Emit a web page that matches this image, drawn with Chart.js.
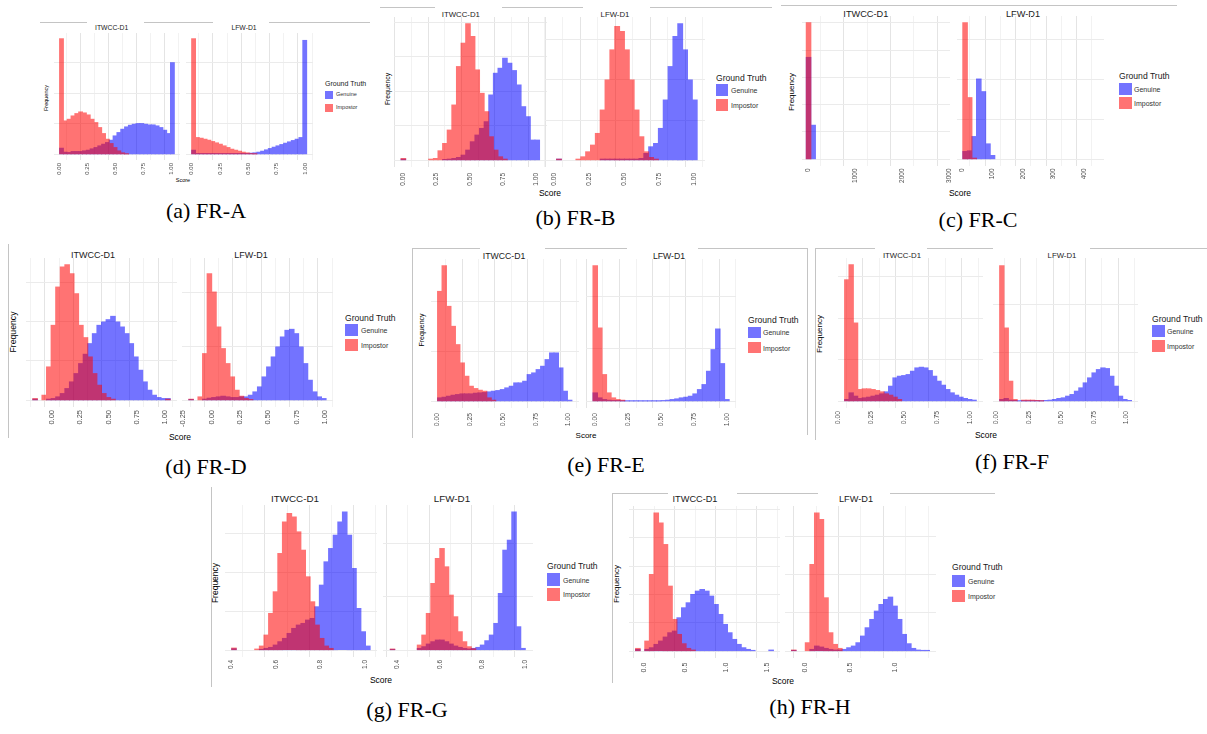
<!DOCTYPE html>
<html><head><meta charset="utf-8">
<script src="https://cdn.jsdelivr.net/npm/chart.js@4.4.0/dist/chart.umd.min.js"></script>
<style>
html,body{margin:0;padding:0;background:#fff;}
body{width:1207px;height:734px;position:relative;overflow:hidden;font-family:"Liberation Sans",Arial,sans-serif;}
canvas{position:absolute;}
.t{position:absolute;white-space:nowrap;color:#1a1a1a;line-height:1;}
.c{transform:translate(-50%,-50%);}
.l{transform:translate(0,-50%);}
.r{transform:translate(-50%,-50%) rotate(-90deg);}
.cap{font-family:"Liberation Serif","Times New Roman",serif;font-size:22px;color:#000;}
.ln{position:absolute;background:#c4c4c4;}
.key{position:absolute;}
</style></head><body>
<script>
// ---------------- DATA ----------------
const facets = ['ITWCC-D1', 'LFW-D1'];
const groundTruth = ['Genuine', 'Impostor'];
const captions = ['(a) FR-A','(b) FR-B','(c) FR-C','(d) FR-D','(e) FR-E','(f) FR-F','(g) FR-G','(h) FR-H'];

// tick values and labels
const tickUnit = [0, 0.25, 0.5, 0.75, 1];
const tickUnitLabels = ['0.00','0.25','0.50','0.75','1.00'];
const tickD2 = [-0.25, 0, 0.25, 0.5, 0.75, 1];
const tickD2Labels = ['-0.25','0.00','0.25','0.50','0.75','1.00'];
const tickC1 = [0, 1000, 2000, 3000];
const tickC1Labels = ['0','1000','2000','3000'];
const tickC2 = [0, 100, 200, 300, 400];
const tickC2Labels = ['0','100','200','300','400'];
const tickG = [0.4, 0.6, 0.8, 1.0];
const tickGLabels = ['0.4','0.6','0.8','1.0'];
const tickH1 = [0, 0.5, 1, 1.5];
const tickH1Labels = ['0.0','0.5','1.0','1.5'];
const tickH2 = [0, 0.5, 1];
const tickH2Labels = ['0.0','0.5','1.0'];

// histogram bins: [left edge of first bin, bin width] (30 bins each)
const binsA1 = [0, 0.0343];
const binsA2 = [0, 0.0338];
const binsB1 = [-0.017, 0.0347];
const binsB2 = [-0.017, 0.0347];
const binsC1 = [-49, 98];
const binsC2 = [2, 15];
const binsD1 = [-0.17, 0.0405];
const binsD2 = [-0.2, 0.0403];
const binsE1 = [0, 0.0342];
const binsE2 = [-0.0125, 0.0342];
const binsF1 = [0.05, 0.0333];
const binsF2 = [0.026, 0.0338];
const binsG1 = [0.4, 0.0208];
const binsG2 = [0.369, 0.021];
const binsH1 = [-0.1, 0.056];
const binsH2 = [-0.148, 0.0512];

// frequencies (estimated, relative units)
const genA1 = [18,6,5,8,8,8,10,12,16,20,25,30,35,42,55,65,75,82,87,90,92,92,90,88,88,85,80,72,62,275];
const impA1 = [347,100,105,115,122,127,124,118,105,95,80,62,45,32,20,10,4,1,0,0,0,0,0,0,0,0,0,0,0,0];
const genA2 = [12,2,2,2,2,2,2,2,2,2,2,2,2,2,2,3,4,6,9,13,17,21,25,29,33,37,41,45,50,342];
const impA2 = [347,50,48,45,42,38,34,30,25,20,15,12,9,6,4,2,1,0,0,0,0,0,0,0,0,0,0,0,0,0];

const genB1 = [3,0,0,0,0,0,0,0,0,2,3,5,8,15,30,55,75,95,115,195,260,275,305,290,268,225,160,130,60,60];
const impB1 = [5,0,0,0,0,0,3,5,28,50,90,165,280,350,408,370,270,200,145,70,30,10,3,0,0,0,0,0,0,0];
const genB2 = [0,3,0,0,0,0,0,0,0,0,3,3,3,3,3,3,3,3,5,20,40,50,95,180,280,370,408,330,240,180];
const impB2 = [0,3,0,0,0,3,10,25,45,80,150,240,330,400,385,330,240,150,70,25,8,3,0,0,0,0,0,0,0,0];

const genC1 = [306,102,0,0,0,0,0,0,0,0,0,0,0,0,0,0,0,0,0,0,0,0,0,0,0,0,0,0,0,0];
const impC1 = [410,0,0,0,0,0,0,0,0,0,0,0,0,0,0,0,0,0,0,0,0,0,0,0,0,0,0,0,0,0];
const genC2 = [23,25,68,241,203,46,11,0,0,0,0,0,0,0,0,0,0,0,0,0,0,0,0,0,0,0,0,0,0,0];
const impC2 = [410,185,3,0,0,0,0,0,0,0,0,0,0,0,0,0,0,0,0,0,0,0,0,0,0,0,0,0,0,0];

const genD1 = [3,0,0,3,5,10,20,35,55,80,110,138,170,200,225,235,242,252,235,220,200,170,130,90,55,30,15,8,5,5];
const impD1 = [5,0,15,100,225,340,400,407,380,320,225,188,130,80,45,20,8,3,0,0,0,0,0,0,0,0,0,0,0,3];
const genD2 = [2,0,0,3,6,8,10,12,10,8,8,10,10,15,25,40,70,100,130,160,190,210,213,200,160,110,60,25,10,5];
const impD2 = [3,0,10,140,380,325,220,155,110,70,30,12,5,2,0,0,0,0,0,0,0,0,0,0,0,0,0,0,0,0];

const genE1 = [10,12,15,18,20,22,22,22,24,25,26,28,30,32,35,40,45,55,55,60,80,85,95,105,125,145,145,100,30,3];
const impE1 = [330,407,285,225,170,115,75,45,38,33,30,10,3,0,0,0,0,0,0,0,0,0,0,0,0,0,0,0,0,0];
const genE2 = [25,10,5,3,2,2,1,1,1,1,1,1,1,1,1,2,3,5,7,10,12,15,22,35,50,90,155,217,113,5];
const impE2 = [407,220,80,25,10,5,3,0,0,0,0,0,0,0,0,0,0,0,0,0,0,0,0,0,0,0,0,0,0,0];

const genF1 = [5,25,15,8,10,12,15,18,22,28,45,70,75,77,80,90,100,102,100,92,75,60,48,35,25,18,12,8,5,3];
const impF1 = [365,410,235,35,37,37,35,32,28,22,18,12,5,0,0,0,0,0,0,0,0,0,0,0,0,0,0,0,0,0];
const genF2 = [5,8,3,2,1,1,1,1,1,1,2,3,5,8,10,15,20,30,40,55,70,85,95,100,98,75,45,15,5,2];
const impF2 = [407,220,60,5,0,3,3,3,2,1,0,0,0,0,0,0,0,0,0,0,0,0,0,0,0,0,0,0,0,0];

const genG1 = [4,0,0,0,0,0,2,5,8,15,25,35,50,65,75,80,90,95,130,195,265,305,345,385,415,345,245,125,55,12];
const impG1 = [6,0,0,0,0,3,12,45,110,175,290,385,410,400,355,300,220,145,75,35,12,5,0,0,0,0,0,0,0,0];
const genG2 = [2,0,0,0,0,0,5,10,18,25,30,30,25,18,12,8,5,3,5,8,15,28,45,80,170,300,330,415,70,5];
const impG2 = [3,0,0,0,0,0,15,45,110,200,275,305,250,165,100,55,25,10,4,0,0,0,0,0,0,0,0,0,0,0];

const genH1 = [5,0,5,10,20,30,42,55,60,100,130,145,170,180,185,180,165,140,110,80,55,35,20,10,5,2,0,0,0,3];
const impH1 = [8,0,30,230,415,385,320,195,95,50,22,8,3,0,0,0,0,0,0,0,0,0,0,0,0,0,0,0,0,0];
const genH2 = [2,0,0,0,5,15,12,8,5,3,3,5,10,15,25,45,70,95,120,140,155,162,135,95,50,22,8,3,2,2];
const impH2 = [3,0,0,25,260,415,395,160,55,20,8,0,0,0,0,0,0,0,0,0,0,0,0,0,0,0,0,0,0,0];

// ---------------- LAYOUT / STYLE ----------------
const ALPHA = 0.55;
const BLUE_SOLID = 'rgb(0,0,255)', RED_SOLID = 'rgb(255,0,0)';
const BLUE = 'rgba(0,0,255,0.55)', RED = 'rgba(255,0,0,0.55)';
Chart.defaults.font.family = '"Liberation Sans", Arial, sans-serif';

const FIGS = {
  a:{top:32.5, bottom:159.8, tick:6,   pad:3,   title:6.8, titleY:28,  titleX:[111.7,244], freq:[47,98,5.5],  score:[183,181,5.5], leg:{x:325, ty:83,  gy:95,   iy:107.5, kw:8,  kh:8,  tf:7,   lf:5.5, tx:336}, cap:[206,211]},
  b:{top:17.2, bottom:166.8, tick:6.5, pad:6,   title:7.8, titleY:15,  titleX:[460.8,615], freq:[388,89,6.8], score:[550,193,8.5], leg:{x:716, ty:77.5,gy:90,   iy:105,   kw:12, kh:12, tf:8.6, lf:7,   tx:731}, cap:[575.5,218]},
  c:{top:15.5, bottom:165.8, tick:6.5, pad:2.5, title:9.2, titleY:15,  titleX:[865.8,1023],freq:[792,92,8],   score:[960,193,8.5], leg:{x:1119,ty:76,  gy:89,   iy:102.5, kw:13, kh:12, tf:8.6, lf:7,   tx:1134},cap:[978,220]},
  d:{top:257.5,bottom:406.8, tick:7.5, pad:3,   title:9,   titleY:255, titleX:[93,251],    freq:[13,332,8.7], score:[180,437,8.5], leg:{x:345, ty:317.5,gy:330,  iy:344.5, kw:13, kh:12, tf:8.6, lf:7,   tx:361}, cap:[206,467]},
  e:{top:259.2,bottom:408.5, tick:6.8, pad:5,   title:8.7, titleY:256, titleX:[504,669],   freq:[421,330,7],  score:[586,436,8],   leg:{x:748, ty:320, gy:332,  iy:347.5, kw:13, kh:11, tf:8.6, lf:7,   tx:763}, cap:[606,465]},
  f:{top:258.2,bottom:408.5, tick:6.8, pad:3,   title:7.8, titleY:256, titleX:[902,1062],  freq:[820,334,8],  score:[986,435,8.5], leg:{x:1152,ty:319, gy:331,  iy:346,   kw:13, kh:12, tf:8.6, lf:7,   tx:1167},cap:[1012,462]},
  g:{top:504.75,bottom:656.9,tick:6.5, pad:3,   title:9.8, titleY:499, titleX:[295,452],   freq:[215,583,8.5],score:[381,680,8.5], leg:{x:547, ty:566, gy:579.5,iy:594,   kw:13, kh:13, tf:8.6, lf:7,   tx:563}, cap:[407,710]},
  h:{top:506.4,bottom:658.6, tick:7,   pad:4.7, title:9.2, titleY:500, titleX:[695,856],   freq:[617,584,8],  score:[783,681,8.5], leg:{x:952, ty:567, gy:581,  iy:596,   kw:13, kh:12, tf:8.6, lf:7,   tx:968}, cap:[810,707]}
};

const PANELS = [
  {fig:'a', gen:genA1, imp:impA1, bins:binsA1, ticks:tickUnit, labels:tickUnitLabels, xMin:-0.05, xMax:1.08, left:54.4, right:180.6, yStep:92},
  {fig:'a', gen:genA2, imp:impA2, bins:binsA2, ticks:tickUnit, labels:tickUnitLabels, xMin:-0.05, xMax:1.07, left:186.0, right:312.9, yStep:92},
  {fig:'b', gen:genB1, imp:impB1, bins:binsB1, ticks:tickUnit, labels:tickUnitLabels, xMin:-0.07, xMax:1.08, left:394.0, right:547.3, yStep:103},
  {fig:'b', gen:genB2, imp:impB2, bins:binsB2, ticks:tickUnit, labels:tickUnitLabels, xMin:-0.065, xMax:1.08, left:545.0, right:704.5, yStep:120},
  {fig:'c', gen:genC1, imp:impC1, bins:binsC1, ticks:tickC1, labels:tickC1Labels, xMin:-140, xMax:3020, left:801.8, right:949.3, yStep:82},
  {fig:'c', gen:genC2, imp:impC2, bins:binsC2, ticks:tickC2, labels:tickC2Labels, xMin:-17, xMax:465, left:956.5, right:1103.0, yStep:120},
  {fig:'d', gen:genD1, imp:impD1, bins:binsD1, ticks:tickUnit, labels:tickUnitLabels, xMin:-0.23, xMax:1.105, left:25.6, right:176.9, yStep:118},
  {fig:'d', gen:genD2, imp:impD2, bins:binsD2, ticks:tickD2, labels:tickD2Labels, xMin:-0.26, xMax:1.07, left:182.2, right:332.9, yStep:162},
  {fig:'e', gen:genE1, imp:impE1, bins:binsE1, ticks:tickUnit, labels:tickUnitLabels, xMin:-0.05, xMax:1.08, left:430.8, right:578.8, yStep:150},
  {fig:'e', gen:genE2, imp:impE2, bins:binsE2, ticks:tickUnit, labels:tickUnitLabels, xMin:-0.065, xMax:1.065, left:586.4, right:736.3, yStep:158},
  {fig:'f', gen:genF1, imp:impF1, bins:binsF1, ticks:tickUnit, labels:tickUnitLabels, xMin:0, xMax:1.1, left:838.3, right:983.2, yStep:125},
  {fig:'f', gen:genF2, imp:impF2, bins:binsF2, ticks:tickUnit, labels:tickUnitLabels, xMin:-0.025, xMax:1.09, left:993.4, right:1138.4, yStep:145},
  {fig:'g', gen:genG1, imp:impG1, bins:binsG1, ticks:tickG, labels:tickGLabels, xMin:0.37, xMax:1.055, left:225.0, right:377.2, yStep:117},
  {fig:'g', gen:genG2, imp:impG2, bins:binsG2, ticks:tickG, labels:tickGLabels, xMin:0.335, xMax:1.035, left:382.8, right:532.5, yStep:160},
  {fig:'h', gen:genH1, imp:impH1, bins:binsH1, ticks:tickH1, labels:tickH1Labels, xMin:-0.18, xMax:1.66, left:628.5, right:779.8, yStep:85},
  {fig:'h', gen:genH2, imp:impH2, bins:binsH2, ticks:tickH2, labels:tickH2Labels, xMin:-0.22, xMax:1.46, left:785.2, right:936.4, yStep:115}
];

const LINES = [
  [40,22,87,22],[144,22,213,22],[269,22,370,22],
  [380,7,435,7],[502,7,583,7],[650,7,772,7],
  [781,5,1177,5],
  [8,244,8,438],
  [412,248,412,438],[412,248,480,248],[545,248,627,248],[698,248,807,248],[807,248,807,435],
  [815,248,815,440],[815,248,875,248],[927,248,993,248],[1090,248,1207,248],
  [211,487,211,687],
  [612,493,612,683],[612,493,668,493],[737,493,818,493],[890,493,995,493]
];

// ---------------- HELPERS ----------------
function addText(str, x, y, size, cls, extra) {
  const d = document.createElement('div');
  d.className = 't ' + cls;
  d.textContent = str;
  d.style.left = x + 'px'; d.style.top = y + 'px';
  d.style.fontSize = size + 'px';
  if (extra) Object.assign(d.style, extra);
  document.body.appendChild(d);
  return d;
}
function addKey(x, y, w, h, color) {
  const d = document.createElement('div');
  d.className = 'key';
  Object.assign(d.style, {left:x+'px', top:y+'px', width:w+'px', height:h+'px', background:color});
  document.body.appendChild(d);
}

LINES.forEach(([x1,y1,x2,y2]) => {
  const d = document.createElement('div');
  d.className = 'ln';
  if (y1 === y2) Object.assign(d.style, {left:x1+'px', top:y1+'px', width:(x2-x1)+'px', height:'1px'});
  else Object.assign(d.style, {left:x1+'px', top:y1+'px', width:'1px', height:(y2-y1)+'px'});
  document.body.appendChild(d);
});

const figKeys = Object.keys(FIGS);
figKeys.forEach((k, i) => {
  const f = FIGS[k];
  facets.forEach((name, j) => addText(name, f.titleX[j], f.titleY, f.title, 'c'));
  addText('Frequency', f.freq[0], f.freq[1], f.freq[2], 'r', {color:'#000'});
  addText('Score', f.score[0], f.score[1], f.score[2], 'c', {color:'#000'});
  const L = f.leg;
  addText('Ground Truth', L.x, L.ty, L.tf, 'l');
  addKey(L.x, L.gy - L.kh/2, L.kw, L.kh, BLUE);
  addKey(L.x, L.iy - L.kh/2, L.kw, L.kh, RED);
  addText(groundTruth[0], L.tx, L.gy, L.lf, 'l', {color:'#333'});
  addText(groundTruth[1], L.tx, L.iy, L.lf, 'l', {color:'#333'});
  addText(captions[i], f.cap[0], f.cap[1], 22, 'c cap');
});

// Each dataset is drawn as one translucent layer (solid bars composited with alpha),
// so adjacent bars show no seams and overlaps blend like ggplot's alpha fill.
const layerPlugin = {
  id: 'alphaLayer',
  beforeDatasetDraw(chart, args) {
    const ca = chart.chartArea;
    const meta = args.meta;
    const off = document.createElement('canvas');
    off.width = chart.width; off.height = chart.height;
    const octx = off.getContext('2d');
    octx.save();
    octx.beginPath(); octx.rect(ca.left, ca.top, ca.right - ca.left, ca.bottom - ca.top); octx.clip();
    meta.data.forEach((el, i) => {
      const v = meta.controller.getParsed(i).y;
      if (v !== null && v > 0) el.draw(octx);
    });
    octx.restore();
    const ctx = chart.ctx;
    ctx.save(); ctx.globalAlpha = ALPHA; ctx.drawImage(off, 0, 0); ctx.restore();
    return false;
  }
};

// y range per figure (shared by its two facets), ggplot-like 5% expansion
const figMax = {};
PANELS.forEach(p => {
  const m = Math.max(...p.gen, ...p.imp);
  figMax[p.fig] = Math.max(figMax[p.fig] || 0, m);
});

const LABEL_H = 26, PADX = 10;
PANELS.forEach(p => {
  const f = FIGS[p.fig];
  const H = figMax[p.fig];
  const w = Math.round(p.right - p.left + 2*PADX);
  const plotH = f.bottom - f.top;
  const h = Math.round(plotH + LABEL_H);
  const cv = document.createElement('canvas');
  cv.width = w; cv.height = h;
  cv.style.left = (p.left - PADX) + 'px';
  cv.style.top = f.top + 'px';
  cv.style.width = w + 'px'; cv.style.height = h + 'px';
  document.body.appendChild(cv);

  const centers = p.gen.map((_, i) => p.bins[0] + p.bins[1] * (i + 0.5));
  const step = p.ticks[1] - p.ticks[0];
  const minor = [];
  for (let i = -1; i < p.ticks.length; i++) minor.push(p.ticks[0] + step * (i + 0.5));
  const allX = p.ticks.concat(minor).filter(v => v >= p.xMin && v <= p.xMax).sort((a,b)=>a-b);
  const isMajor = v => p.ticks.some(t => Math.abs(t - v) < 1e-9);
  const yVals = [];
  for (let v = 0; v <= H * 1.05; v += p.yStep) yVals.push(v);

  new Chart(cv, {
    type: 'bar',
    plugins: [layerPlugin],
    data: {
      datasets: [
        {label: groundTruth[1], data: centers.map((x, i) => ({x, y: p.imp[i]})), backgroundColor: RED_SOLID, order: 0},
        {label: groundTruth[0], data: centers.map((x, i) => ({x, y: p.gen[i]})), backgroundColor: BLUE_SOLID, order: 1}
      ]
    },
    options: {
      responsive: false, animation: false, devicePixelRatio: 1,
      layout: {padding: {left: PADX, right: PADX, top: 0, bottom: 0}, autoPadding: false},
      plugins: {legend: {display: false}, tooltip: {enabled: false}},
      datasets: {bar: {barPercentage: 1, categoryPercentage: 1, borderWidth: 0, grouped: false, inflateAmount: 0.5}},
      scales: {
        x: {
          type: 'linear', min: p.xMin, max: p.xMax, offset: false,
          border: {display: false},
          grid: {drawTicks: false, color: ctx => (ctx.tick && isMajor(ctx.tick.value)) ? '#e4e4e4' : '#f2f2f2', lineWidth: 1},
          afterBuildTicks: s => { s.ticks = allX.map(v => ({value: v})); },
          afterFit: s => { s.height = LABEL_H; },
          ticks: {
            autoSkip: false, minRotation: 90, maxRotation: 90, padding: f.pad,
            color: '#4d4d4d', font: {size: f.tick},
            callback: v => { const k = p.ticks.findIndex(t => Math.abs(t - v) < 1e-9); return k >= 0 ? p.labels[k] : ''; }
          }
        },
        y: {
          min: -0.05 * H, max: 1.05 * H,
          border: {display: false},
          grid: {drawTicks: false, color: '#ebebeb', lineWidth: 1},
          afterBuildTicks: s => { s.ticks = yVals.map(v => ({value: v})); },
          ticks: {display: false}
        }
      }
    }
  });
});
</script>
</body></html>
